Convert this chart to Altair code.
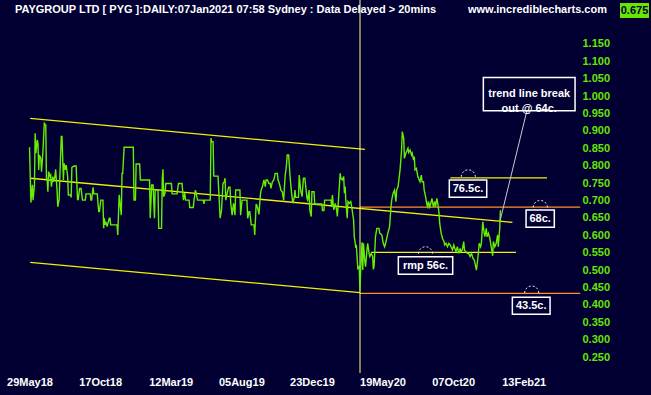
import altair as alt
import pandas as pd

BG = "#020033"
GREEN = "#66e600"
LINE_GREEN = "#66ee00"
YELLOW = "#f2f200"
ORANGE = "#ff9328"
FONT = "Liberation Sans"

# ---- price series (trading-day index from 29May18, close price in $) ----
day_idx = [0, 2, 4, 5, 7, 8, 9, 11, 12, 13, 14, 16, 17, 19, 20, 21, 23, 24, 25, 26, 27, 29, 30, 31, 33, 34,
           36, 37, 38, 39, 40, 42, 43, 45, 46, 48, 49, 51, 52, 54, 55, 58, 59, 60, 63, 66, 68, 69, 71, 73,
           75, 79, 80, 86, 87, 88, 90, 91, 96, 98, 99, 101, 104, 105, 106, 107, 108, 110, 111, 113, 114,
           115, 124, 125, 127, 130, 131, 132, 134, 147, 148, 150, 151, 156, 157,
           170, 171, 173, 175, 177, 178, 182, 183, 187, 188, 189, 190, 192, 193, 201, 202, 209, 211, 216,
           218, 220, 221, 226, 227, 232, 233, 235, 238, 246, 247, 248, 256, 257, 258, 260, 261, 267, 270,
           272, 274, 276, 277, 278, 280, 282, 284, 285, 287, 289, 291, 292, 298, 299, 301, 308, 309, 311,
           312, 314, 318, 319, 321, 323, 325,
           327, 328, 330, 332, 334, 335, 337, 339, 341, 342, 344, 346, 348, 351, 352, 353, 355, 356, 358,
           360, 362, 364, 365, 367, 368, 369, 371, 373, 375, 376, 377, 381, 382, 384, 386, 388, 390, 392,
           393, 394, 396, 397, 399, 400, 403, 404, 414, 415, 417, 418, 427, 428, 429, 430, 431, 433, 435,
           436, 437, 440, 441, 443, 445, 446, 447, 448, 450, 451, 453, 455, 456, 459, 460, 462, 463, 465,
           467, 468, 469, 471, 472, 473, 475, 476, 478, 479, 481, 482, 484, 486, 487, 488, 490, 492, 495,
           496, 499, 501, 503, 505, 507, 510, 512, 513, 515, 517, 519, 520, 522, 524, 525, 527, 528, 530,
           531, 533, 534, 536, 537, 539, 541, 542, 544, 545, 546, 548, 550, 552, 553, 555, 556, 558, 559,
           561, 563, 564, 565, 567, 569, 570, 572, 574, 575, 577, 579, 580, 581, 583, 585, 587, 588, 590,
           592, 594, 596, 597, 599, 601, 603, 604, 606, 608, 610, 611, 613, 615, 616, 618, 620, 622, 624,
           626, 628, 630, 631, 633, 635, 637, 639, 640, 642, 644, 645, 647, 648, 650, 652, 654, 656, 657,
           659, 661, 663, 664, 666, 667]
price = [0.853, 0.694, 0.745, 0.701, 0.745, 0.893, 0.836, 0.874, 0.864, 0.788, 0.831, 0.821, 0.783, 0.840,
         0.884, 0.922, 0.917, 0.764, 0.759, 0.725, 0.783, 0.769, 0.773, 0.740, 0.769, 0.754,
         0.769, 0.790, 0.759, 0.730, 0.682, 0.703, 0.769, 0.884, 0.884, 0.759, 0.807, 0.788, 0.802, 0.769,
         0.716, 0.716, 0.709, 0.795, 0.799, 0.799, 0.703, 0.703, 0.735, 0.735,
         0.701, 0.701, 0.719, 0.719, 0.701, 0.701, 0.738, 0.719, 0.719, 0.668, 0.668, 0.701, 0.701, 0.620,
         0.649, 0.630, 0.639, 0.625, 0.634, 0.649, 0.649,
         0.630, 0.630, 0.601, 0.716, 0.658, 0.778, 0.778, 0.853, 0.853, 0.701, 0.701, 0.805, 0.805, 0.759,
         0.759, 0.649, 0.745, 0.745, 0.649, 0.730, 0.730, 0.620, 0.620, 0.759, 0.790, 0.711, 0.721, 0.749,
         0.749, 0.719, 0.719, 0.749, 0.749,
         0.701, 0.721, 0.701, 0.701, 0.680, 0.680, 0.701, 0.730, 0.701, 0.701, 0.690, 0.701, 0.701, 0.879,
         0.869, 0.869, 0.770, 0.770, 0.649,
         0.673, 0.749, 0.754, 0.764, 0.701, 0.721, 0.738, 0.738, 0.692, 0.658, 0.692, 0.658, 0.730, 0.730,
         0.658, 0.701, 0.701, 0.649, 0.668,
         0.668, 0.630, 0.630, 0.601, 0.690, 0.680, 0.660,
         0.716, 0.730, 0.740, 0.759, 0.740, 0.759, 0.759, 0.749, 0.749, 0.735, 0.754, 0.759, 0.778, 0.778,
         0.759, 0.754, 0.740, 0.730, 0.725,
         0.701, 0.769, 0.802, 0.831, 0.831, 0.802, 0.769, 0.725, 0.692, 0.709, 0.730, 0.709, 0.709, 0.773,
         0.730, 0.711, 0.764, 0.764, 0.725,
         0.706, 0.701, 0.730, 0.673, 0.654, 0.725, 0.725, 0.690, 0.690, 0.671, 0.671, 0.701, 0.701, 0.682,
         0.716, 0.692, 0.673, 0.692, 0.673,
         0.654, 0.682, 0.778, 0.764, 0.759, 0.769, 0.721, 0.740, 0.701, 0.649, 0.697, 0.692, 0.697, 0.687,
         0.644, 0.596, 0.567, 0.569, 0.505,
         0.510, 0.438, 0.500, 0.580, 0.500, 0.577, 0.524, 0.510, 0.558, 0.577, 0.548, 0.539, 0.548, 0.539,
         0.502, 0.510, 0.596, 0.620, 0.620,
         0.606, 0.601, 0.577, 0.567, 0.582, 0.601, 0.625, 0.682, 0.701, 0.721, 0.730, 0.697, 0.730, 0.740,
         0.773, 0.792, 0.845, 0.898, 0.879,
         0.821, 0.836, 0.840, 0.850, 0.838, 0.845, 0.831, 0.836, 0.816, 0.826, 0.788, 0.792, 0.769, 0.759,
         0.754, 0.773, 0.754, 0.754, 0.730,
         0.711, 0.687, 0.682, 0.697, 0.682, 0.697, 0.706, 0.682, 0.697, 0.682, 0.706, 0.682, 0.663, 0.634,
         0.606, 0.591, 0.582, 0.572, 0.577,
         0.567, 0.577, 0.572, 0.567, 0.558, 0.572, 0.558, 0.553, 0.567, 0.548, 0.562, 0.553, 0.558, 0.582,
         0.558, 0.553, 0.548, 0.548, 0.539,
         0.548, 0.534, 0.529, 0.519, 0.500, 0.534, 0.577, 0.567, 0.577, 0.639, 0.606, 0.596, 0.620, 0.596,
         0.606, 0.591, 0.567, 0.541, 0.582,
         0.567, 0.577, 0.601, 0.567, 0.620, 0.672]

# ---- axes ----
x_tick_days = [0, 100, 200, 300, 400, 500, 600, 700]
x_tick_labels = ["29May18", "17Oct18", "12Mar19", "05Aug19", "23Dec19", "19May20", "07Oct20", "13Feb21"]
y_ticks = [0.25, 0.30, 0.35, 0.40, 0.45, 0.50, 0.55, 0.60, 0.65, 0.70, 0.75, 0.80, 0.85, 0.90,
           0.95, 1.00, 1.05, 1.10, 1.15]

# ---- trend channel (start day, end day, start price, end price) ----
chan_x0 = [1, 1, 1]
chan_x1 = [475, 684, 468]
chan_y0 = [0.936, 0.764, 0.522]
chan_y1 = [0.847, 0.637, 0.435]

# ---- horizontal levels ----
lvl_price = [0.765, 0.551, 0.681, 0.433]
lvl_x0 = [596, 484, 468, 468]
lvl_x1 = [733, 689, 780, 780]
lvl_kind = ["y", "y", "o", "o"]

# ---- marker (crash low) ----
marker_day = [468.1]

# ---- annotation boxes ----
ann_text = ["trend line break\nout @ 64c.", "76.5c.", "68c.", "rmp 56c.", "43.5c."]
box_x0 = [642.8, 594.6, 703.3, 522.4, 683.9]
box_x1 = [772.7, 647.6, 743.3, 599.4, 737.3]
box_top = [1.054, 0.759, 0.673, 0.538, 0.422]
box_bot = [0.958, 0.709, 0.623, 0.488, 0.373]
anchor_day = [621.5, 723.5, 560.9, 711.3]
anchor_price = [0.768, 0.680, 0.547, 0.434]
ptr_x0, ptr_y0, ptr_x1, ptr_y1 = [666.4], [0.641], [704.7], [0.960]

# ---- header ----
title_text = "PAYGROUP LTD [ PYG ]:DAILY:07Jan2021 07:58 Sydney : Data Delayed > 20mins"
site_text = "www.incrediblecharts.com"
last_price = "0.675"

xs = alt.Scale(domain=[-41.8, 779.7], nice=False, zero=False)
ys = alt.Scale(domain=[0.2069, 1.219], nice=False, zero=False)

label_expr = "[" + ",".join("'" + s + "'" for s in x_tick_labels) + "][round(datum.value/100)]"

x_axis = alt.Axis(values=x_tick_days, labelExpr=label_expr, labelColor="white", labelFont=FONT,
                  labelFontWeight="bold", labelFontSize=11, tickSize=0, domain=False, grid=False,
                  labelPadding=4, labelFlush=False, labelOverlap=False, title=None)
y_axis = alt.Axis(values=y_ticks, format=".3f", orient="right", labelColor=GREEN, labelFont=FONT,
                  labelFontWeight="bold", labelFontSize=11, tickSize=0, domain=False, grid=False,
                  labelAlign="left", labelPadding=2, labelOverlap=False, title=None)


def X(f):
    return alt.X(f, scale=xs, axis=x_axis, title=None)


def Y(f):
    return alt.Y(f, scale=ys, axis=y_axis, title=None)


price_df = pd.DataFrame({"d": day_idx, "p": price})
price_line = alt.Chart(price_df).mark_line(color=LINE_GREEN, strokeWidth=1.4).encode(
    x=X("d:Q"), y=Y("p:Q"))

chan_df = pd.DataFrame({"x0": chan_x0, "x1": chan_x1, "y0": chan_y0, "y1": chan_y1})
chan = alt.Chart(chan_df).mark_rule(color=YELLOW, strokeWidth=1.3).encode(
    x=X("x0:Q"), x2="x1:Q", y=Y("y0:Q"), y2="y1:Q")

lvl_df = pd.DataFrame({"x0": lvl_x0, "x1": lvl_x1, "p": lvl_price, "k": lvl_kind})
lvls = alt.Chart(lvl_df).mark_rule(strokeWidth=1.2).encode(
    x=X("x0:Q"), x2="x1:Q", y=Y("p:Q"),
    color=alt.Color("k:N", scale=alt.Scale(domain=["y", "o"], range=[YELLOW, ORANGE]), legend=None),
)

marker_df = pd.DataFrame({"d": marker_day})
marker = alt.Chart(marker_df).mark_rule(color="#ffff88", strokeWidth=1).encode(
    x=X("d:Q"), y=alt.value(-20), y2=alt.value(353))

ptr_df = pd.DataFrame({"x0": ptr_x0, "y0": ptr_y0, "x1": ptr_x1, "y1": ptr_y1})
ptr = alt.Chart(ptr_df).mark_rule(color="#c8c8d0", strokeWidth=1).encode(
    x=X("x0:Q"), x2="x1:Q", y=Y("y0:Q"), y2="y1:Q")

box_df = pd.DataFrame({"t": ann_text, "x0": box_x0, "x1": box_x1, "yt": box_top, "yb": box_bot})
box_df["xm"] = (box_df["x0"] + box_df["x1"]) / 2
box_df["ym"] = (box_df["yt"] + box_df["yb"]) / 2
boxes = alt.Chart(box_df).mark_rect(fill=BG, stroke="white", strokeWidth=1.5).encode(
    x=X("x0:Q"), x2="x1:Q", y=Y("yt:Q"), y2="yb:Q")
box_text = alt.Chart(box_df).mark_text(color="white", font=FONT, fontWeight="bold", fontSize=11,
                                       lineBreak="\n", lineHeight=15, align="center",
                                       baseline="middle").encode(
    x=X("xm:Q"), y=Y("ym:Q"), text="t:N")

anc_df = pd.DataFrame({"d": anchor_day, "p": anchor_price})
anchors = alt.Chart(anc_df).mark_point(shape="M -1 0 A 1 1 0 0 1 1 0", filled=False, stroke="white",
                                       strokeWidth=1, strokeDash=[2, 2], size=200, opacity=0.9).encode(
    x=X("d:Q"), y=Y("p:Q"))

hdr = pd.DataFrame({"a": [0]})
title_mark = alt.Chart(hdr).mark_text(text=title_text, color="white", font=FONT, fontWeight="bold",
                                      fontSize=11, align="left", baseline="middle").encode(
    x=alt.value(15), y=alt.value(-10))
site_mark = alt.Chart(hdr).mark_text(text=site_text, color="white", font=FONT, fontWeight="bold",
                                     fontSize=11, align="left", baseline="middle").encode(
    x=alt.value(468), y=alt.value(-10))
price_box = alt.Chart(hdr).mark_rect(color=GREEN).encode(
    x=alt.value(620), x2=alt.value(649), y=alt.value(-17), y2=alt.value(-2))
price_lbl = alt.Chart(hdr).mark_text(text=last_price, color="#000033", font=FONT, fontWeight="bold",
                                     fontSize=11, align="center", baseline="middle").encode(
    x=alt.value(634.5), y=alt.value(-9.5))

chart = alt.layer(
    chan, lvls, marker, price_line, ptr, boxes, box_text, anchors,
    title_mark, site_mark, price_box, price_lbl,
).properties(
    width=580, height=352,
    autosize=alt.AutoSizeParams(type="none"),
    padding={"left": 0, "top": 20, "right": 71, "bottom": 23},
    background=BG,
).configure_view(strokeWidth=0)

chart.save("out.html", embed_options={"renderer": "svg", "actions": False})
